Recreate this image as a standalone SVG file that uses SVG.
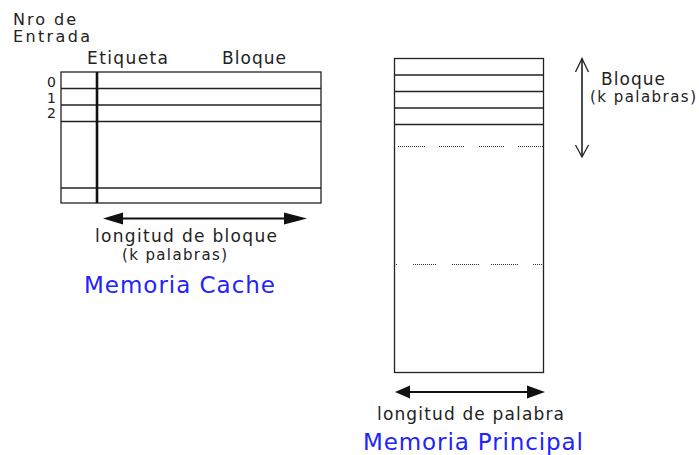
<svg xmlns="http://www.w3.org/2000/svg" width="699" height="455" viewBox="0 0 699 455">
<style>
text{font-family:"DejaVu Sans","Verdana",sans-serif;fill:#222}
.t{font-size:17px}
.n{font-size:16px}
.s{font-size:15px}
.d{font-size:14px}
.title{font-size:23px;fill:#2222ff}
.ln{stroke:#222;stroke-width:1.3;fill:none}
.dot{stroke:#333;stroke-width:1;stroke-dasharray:1 1;fill:none}
.ah{fill:#111;stroke:none}
</style>
<rect width="699" height="455" fill="#fff"/>
<g id="cache-memory">
<rect class="ln" x="61" y="72" width="260" height="131"/>
<line class="ln" x1="61" y1="88.5" x2="321" y2="88.5"/>
<line class="ln" x1="61" y1="105" x2="321" y2="105"/>
<line class="ln" x1="61" y1="121.5" x2="321" y2="121.5"/>
<line class="ln" x1="61" y1="188" x2="321" y2="188"/>
<line x1="97" y1="72" x2="97" y2="203" stroke="#111" stroke-width="2.6"/>
<text class="n" x="13" y="25" textLength="63" lengthAdjust="spacing">Nro de</text>
<text class="n" x="13" y="42" textLength="77" lengthAdjust="spacing">Entrada</text>
<text class="t" x="87" y="64" textLength="81" lengthAdjust="spacing">Etiqueta</text>
<text class="t" x="222" y="64" textLength="64" lengthAdjust="spacing">Bloque</text>
<text class="d" x="47" y="87">0</text>
<text class="d" x="47" y="102.5">1</text>
<text class="d" x="47" y="118">2</text>
<text class="t" x="95" y="242" textLength="182" lengthAdjust="spacing">longitud de bloque</text>
<text class="s" x="122" y="260" textLength="105" lengthAdjust="spacing">(k palabras)</text>
<text class="title" x="84" y="293" textLength="191" lengthAdjust="spacing">Memoria Cache</text>
</g>
<g id="main-memory">
<rect class="ln" x="394.5" y="58.5" width="149" height="314"/>
<line class="ln" x1="394.5" y1="75" x2="543.5" y2="75"/>
<line class="ln" x1="394.5" y1="91.5" x2="543.5" y2="91.5"/>
<line class="ln" x1="394.5" y1="108" x2="543.5" y2="108"/>
<line class="ln" x1="394.5" y1="124.5" x2="543.5" y2="124.5"/>
<path class="dot" d="M398 146.5H425M439 146.5H465M479 146.5H505M518 146.5H543"/>
<path class="dot" d="M396 264.5H398M413 264.5H437M452 264.5H479M491 264.5H519M533 264.5H543"/>
<text class="t" x="601" y="85" textLength="64" lengthAdjust="spacing">Bloque</text>
<text class="s" x="590" y="102" textLength="106" lengthAdjust="spacing">(k palabras)</text>
<text class="t" x="377" y="420" textLength="187" lengthAdjust="spacing">longitud de palabra</text>
<text class="title" x="363" y="450" textLength="220" lengthAdjust="spacing">Memoria Principal</text>
</g>
<g id="connectors">
<line x1="118" y1="218.5" x2="290" y2="218.5" stroke="#111" stroke-width="1.8"/>
<polygon class="ah" points="103,218.5 123,212.5 123,224.5"/>
<polygon class="ah" points="307,218.5 284,212.5 284,224.5"/>
<line x1="405" y1="392" x2="535" y2="392" stroke="#111" stroke-width="1.8"/>
<polygon class="ah" points="395,392 410,385.5 410,398.5"/>
<polygon class="ah" points="545,392 527,385.5 527,398.5"/>
<line x1="582" y1="58.5" x2="582" y2="157" stroke="#111" stroke-width="1.5"/>
<polyline class="ln" points="575.5,72 582,58.5 588.5,72"/>
<polyline class="ln" points="575.5,145 582,157 588.5,145"/>
</g>
</svg>
